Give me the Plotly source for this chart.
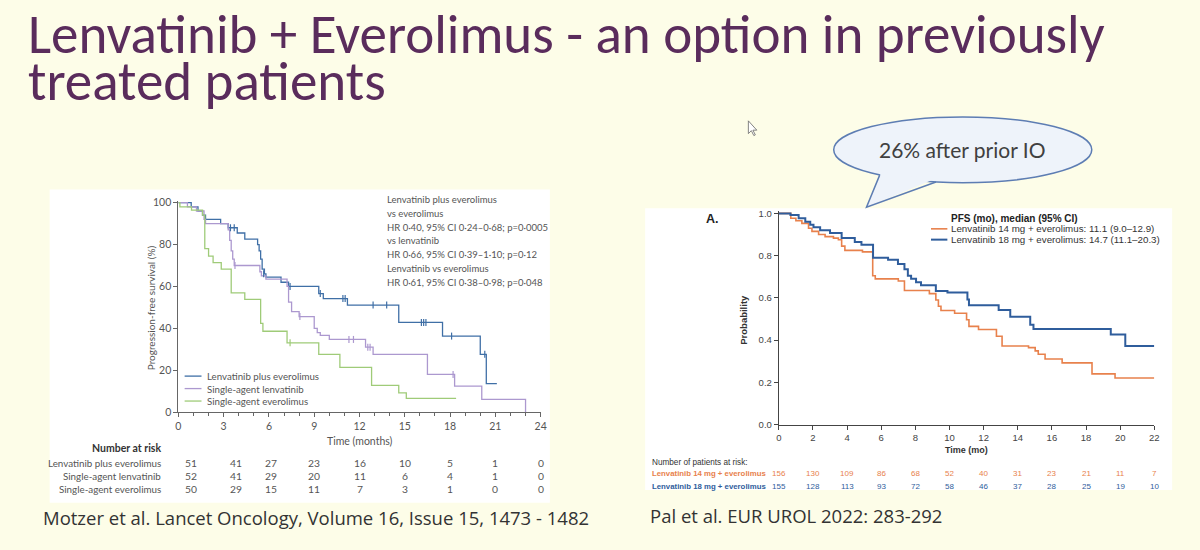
import plotly.graph_objects as go

W, H = 1200, 550
def PX(x): return x / W
def PY(y): return 1 - y / H

# ---------------- Left chart data (Motzer et al.) ----------------
lenv_evero_t = [0, 0.85, 1.3, 1.6, 1.8, 2.8, 3.3, 3.9, 4.4, 5.25, 5.35, 5.45, 5.55, 5.7, 5.8, 6.8, 7.3, 9.3, 9.6, 11.2, 14.6, 17.5, 20.0, 20.4, 21.1]
lenv_evero_s = [100, 98, 96, 94, 92, 90, 88, 85.5, 82.6, 80, 77, 73, 68.3, 66, 64.4, 62, 60, 56.6, 54.2, 51.1, 42.8, 36.3, 27.6, 13.6, 13.6]
lenv_evero_cens_t = [3.45, 3.7, 5.65, 7.4, 9.4, 10.9, 11.05, 12.9, 13.8, 16.1, 16.25, 16.4, 18.1, 20.3]
lenv_evero_cens_s = [88, 88, 66, 60, 56.6, 54.2, 54.2, 51.1, 51.1, 42.8, 42.8, 42.8, 36.3, 27.6]

lenv_t = [0, 0.6, 1.2, 1.7, 1.8, 3.3, 3.4, 3.5, 3.6, 3.7, 5.4, 5.5, 5.8, 7.2, 7.3, 7.5, 8.0, 9.0, 9.2, 9.4, 10.0, 12.4, 12.9, 16.5, 18.3, 20.1, 23.0]
lenv_s = [100, 98, 96, 92, 90, 87, 82, 77, 73, 70, 67, 65, 63.5, 60, 52.5, 48, 45.6, 40, 38, 36.6, 34.7, 31, 27.6, 18, 12.4, 6.1, 0]
lenv_cens_t = [3.75, 8.05, 11.3, 11.6, 12.55, 12.7, 18.2]
lenv_cens_s = [70, 45.6, 34.7, 34.7, 31, 31, 18]

evero_t = [0, 0.1, 0.87, 1.6, 1.75, 2.0, 2.3, 2.84, 3.5, 4.4, 5.45, 5.6, 7.2, 9.3, 10.7, 12.8, 14.6, 15.1, 18.4]
evero_s = [100, 98, 96.4, 94, 78, 74.5, 71.4, 68.3, 56.9, 53.8, 42.4, 38.6, 33.1, 27.6, 21.4, 12.8, 9.2, 6.6, 6.6]
evero_cens_t = [7.4]
evero_cens_s = [33.1]

left_names = ["Lenvatinib plus everolimus", "Single-agent lenvatinib", "Single-agent everolimus"]
left_risk_times = [0, 3, 6, 9, 12, 15, 18, 21, 24]
left_risk = [
    [51, 41, 27, 23, 16, 10, 5, 1, 0],
    [52, 41, 29, 20, 11, 6, 4, 1, 0],
    [50, 29, 15, 11, 7, 3, 1, 0, 0],
]
left_stats = ["Lenvatinib plus everolimus", "vs everolimus", "HR 0·40, 95% CI 0·24–0·68; p=0·0005",
              "vs lenvatinib", "HR 0·66, 95% CI 0·39–1·10; p=0·12", "Lenvatinib vs everolimus",
              "HR 0·61, 95% CI 0·38–0·98; p=0·048"]

# ---------------- Right chart data (Pal et al.) ----------------
l14_t = [0, 0.7, 1.0, 1.35, 1.74, 1.94, 2.33, 2.71, 3.2, 3.49, 3.68, 3.87, 4.9, 5.5, 5.65, 7.0, 7.36, 8.82, 9.2, 9.35, 9.5, 10.3, 11.0, 11.14, 11.7, 12.75, 13.08, 14.63, 15.02, 15.2, 15.6, 16.6, 18.35, 19.7, 22.0]
l14_p = [1.0, 0.977, 0.965, 0.953, 0.93, 0.915, 0.90, 0.89, 0.883, 0.875, 0.845, 0.825, 0.818, 0.705, 0.69, 0.68, 0.635, 0.62, 0.59, 0.56, 0.54, 0.527, 0.496, 0.465, 0.45, 0.418, 0.372, 0.364, 0.349, 0.333, 0.31, 0.292, 0.24, 0.22, 0.22]
l18_t = [0, 0.68, 1.16, 1.55, 1.84, 2.03, 2.42, 3.0, 3.68, 4.45, 4.84, 5.52, 6.4, 6.98, 7.36, 7.56, 7.75, 8.04, 8.33, 9.2, 9.88, 11.05, 11.14, 12.88, 13.56, 14.73, 14.92, 19.45, 20.3, 22.0]
l18_p = [1.0, 0.993, 0.977, 0.96, 0.946, 0.934, 0.92, 0.907, 0.883, 0.865, 0.852, 0.79, 0.78, 0.76, 0.736, 0.705, 0.69, 0.674, 0.66, 0.632, 0.625, 0.592, 0.565, 0.543, 0.511, 0.473, 0.453, 0.427, 0.372, 0.372]

right_names = ["Lenvatinib 14 mg + everolimus", "Lenvatinib 18 mg + everolimus"]
right_legend = ["Lenvatinib 14 mg + everolimus: 11.1 (9.0–12.9)", "Lenvatinib 18 mg + everolimus: 14.7 (11.1–20.3)"]
right_risk_times = [0, 2, 4, 6, 8, 10, 12, 14, 16, 18, 20, 22]
right_risk = [
    [156, 130, 109, 86, 68, 52, 40, 31, 23, 21, 11, 7],
    [155, 128, 113, 93, 72, 58, 46, 37, 28, 25, 19, 10],
]

# ---------------- style ----------------
BG = "#FDFDE8"
TITLE_C = "#5A2C5C"
L_COLORS = ["#3F6FA6", "#AC98CF", "#9FCB78"]
R_COLORS = ["#E8814C", "#2F5D9C"]
LFONT = "Lato, Open Sans, sans-serif"
RFONT = "Liberation Sans, Arial, sans-serif"
GREY = "#555555"

fig = go.Figure()

def km(t, s, color, width, xa, ya):
    fig.add_trace(go.Scatter(x=t, y=s, mode="lines", line=dict(shape="hv", color=color, width=width),
                             xaxis=xa, yaxis=ya, hoverinfo="skip", showlegend=False))

def cens(t, s, color, xa, ya):
    fig.add_trace(go.Scatter(x=t, y=s, mode="markers",
                             marker=dict(symbol="line-ns", size=5, line=dict(color=color, width=1.2)),
                             xaxis=xa, yaxis=ya, hoverinfo="skip", showlegend=False, cliponaxis=False))

km(lenv_evero_t, lenv_evero_s, L_COLORS[0], 1.3, "x", "y")
km(lenv_t, lenv_s, L_COLORS[1], 1.3, "x", "y")
km(evero_t, evero_s, L_COLORS[2], 1.3, "x", "y")
cens(lenv_evero_cens_t, lenv_evero_cens_s, L_COLORS[0], "x", "y")
cens(lenv_cens_t, lenv_cens_s, L_COLORS[1], "x", "y")
cens(evero_cens_t, evero_cens_s, L_COLORS[2], "x", "y")

km(l14_t, l14_p, R_COLORS[0], 1.6, "x2", "y2")
km(l18_t, l18_p, R_COLORS[1], 2.0, "x2", "y2")

# ---------------- axes ----------------
lx0, lx1 = 176.7, 541.7
ly0, ly100 = 415.7, 202.3
lytop = ly100 - (ly0 - ly100) / 100 * 1.0
rx0, rx1 = 781.7, 1160.0
ry0, ry1 = 428.3, 213.3
rytop = ry1 - (ry0 - ry1) * 0.01

common = dict(showgrid=False, zeroline=False, showline=True, ticks="outside", mirror=False)
fig.update_layout(
    xaxis=dict(domain=[PX(lx0), PX(lx1)], range=[0, 24], tickvals=list(range(0, 25, 3)),
               linecolor="#666", linewidth=1, tickcolor="#666", ticklen=4, tickwidth=1,
               minor=dict(dtick=1, ticklen=2.5, tickcolor="#666", ticks="outside", showgrid=False),
               tickfont=dict(family=LFONT, size=10.5, color=GREY), anchor="y", **common),
    yaxis=dict(domain=[PY(ly0), PY(lytop)], range=[0, 101], tickvals=list(range(0, 101, 20)),
               linecolor="#666", linewidth=1, tickcolor="#666", ticklen=4, tickwidth=1,
               tickfont=dict(family=LFONT, size=10.5, color=GREY), anchor="x", **common),
    xaxis2=dict(domain=[PX(rx0), PX(rx1)], range=[0, 22], tickvals=right_risk_times,
                linecolor="#444", linewidth=1.2, tickcolor="#444", ticklen=4, tickwidth=1,
                tickfont=dict(family=RFONT, size=9.5, color="#444"), anchor="y2", **common),
    yaxis2=dict(domain=[PY(ry0), PY(rytop)], range=[0, 1.01], tickvals=[0, 0.2, 0.4, 0.6, 0.8, 1.0],
                tickformat=".1f", linecolor="#444", linewidth=1.2, tickcolor="#444", ticklen=4, tickwidth=1,
                tickfont=dict(family=RFONT, size=9.5, color="#444"), anchor="x2", **common),
)

shapes = []
annots = []

def A(text, x, y, size, color, family, xanchor="left", yanchor="middle", angle=0, xref="paper", yref="paper", xshift=0):
    annots.append(dict(text=text, x=x if xref != "paper" else PX(x), y=PY(y) if yref == "paper" else y,
                       xref=xref, yref=yref, showarrow=False, xanchor=xanchor, yanchor=yanchor,
                       textangle=angle, xshift=xshift,
                       font=dict(size=size, color=color, family=family)))

# white panels
shapes.append(dict(type="rect", xref="paper", yref="paper", x0=PX(47), x1=PX(551), y0=PY(508), y1=PY(189),
                   fillcolor="white", line=dict(width=0), layer="below"))
shapes.append(dict(type="rect", xref="paper", yref="paper", x0=PX(647), x1=PX(1178), y0=PY(495), y1=PY(208),
                   fillcolor="white", line=dict(width=0), layer="below"))

# title
A("Lenvatinib + Everolimus - an option in previously", 23, 31, 55, TITLE_C, "Carlito, Lato, sans-serif")
A("treated patients", 23, 79, 55, TITLE_C, "Carlito, Lato, sans-serif")

# left chart texts
A("Progression-free survival (%)", 149, (ly0 + ly100) / 2, 10, GREY, LFONT, xanchor="center", angle=-90)
A("Time (months)", (lx0 + lx1) / 2, 445, 10.5, GREY, LFONT, xanchor="center")
for i, line in enumerate(left_stats):
    A(line, 385, 199 + 14.1 * i, 9.5, GREY, LFONT)
for i, name in enumerate(left_names):
    yy = 379 + 12.7 * i
    shapes.append(dict(type="line", xref="paper", yref="paper", x0=PX(183), x1=PX(200), y0=PY(yy), y1=PY(yy),
                       line=dict(color=L_COLORS[i], width=1.3)))
    A(name, 204, yy, 9.7, GREY, LFONT)

A("<b>Number at risk</b>", 161, 452, 10.5, "#333", LFONT, xanchor="right")
left_shift = [13, 12, 2, 0, 0, 0, 0, 0, 0]
for r, name in enumerate(left_names):
    yy = 467 + 13.5 * r
    A(name, 161, yy, 9.8, GREY, LFONT, xanchor="right")
    for j, t in enumerate(left_risk_times):
        A(str(left_risk[r][j]), t, yy, 10.3, GREY, LFONT, xanchor="center", xref="x", xshift=left_shift[j])

A("Motzer et al. Lancet Oncology, Volume 16, Issue 15, 1473 - 1482", 38, 523, 18.5, "#333", "Open Sans, sans-serif")

# right chart texts
A("<b>A.</b>", 706, 219, 12.5, "#222", RFONT)
A("<b>Probability</b>", 746.5, 321.7, 9.5, "#333", RFONT, xanchor="center", angle=-90)
A("<b>Time (mo)</b>", (rx0 + rx1) / 2, 454, 9, "#333", RFONT, xanchor="center")
A("<b>PFS (mo), median (95% CI)</b>", 953, 218, 10, "#222", RFONT)
for i, txt in enumerate(right_legend):
    yy = 229 + 11 * i
    shapes.append(dict(type="line", xref="paper", yref="paper", x0=PX(935), x1=PX(951.5), y0=PY(yy), y1=PY(yy),
                       line=dict(color=R_COLORS[i], width=1.6 if i == 0 else 2)))
    A(txt, 953.5, yy, 9.75, "#333", RFONT)

A("Number of patients at risk:", 652, 466.5, 8.2, "#333", RFONT)
for r, name in enumerate(right_names):
    yy = 478.6 + 13.2 * r
    A("<b>" + name + "</b>", 652, yy, 7.8, R_COLORS[r], RFONT)
    for j, t in enumerate(right_risk_times):
        A(str(right_risk[r][j]), t, yy, 8, R_COLORS[r], RFONT, xanchor="center", xref="x2")

A("Pal et al. EUR UROL 2022: 283-292", 650, 521, 18.5, "#333", "Open Sans, sans-serif")

# callout bubble
shapes.append(dict(type="circle", xref="paper", yref="paper", x0=PX(837), x1=PX(1097), y0=PY(182), y1=PY(115),
                   fillcolor="#EEF3FA", line=dict(color="#5D7DB3", width=1.5)))
def pth(pts):
    return "M " + " L ".join(f"{PX(a):.5f},{PY(b):.5f}" for a, b in pts)
shapes.append(dict(type="path", xref="paper", yref="paper", path=pth([(885, 171), (870, 207), (938, 178.5)]) + " Z",
                   fillcolor="#EEF3FA", line=dict(width=0)))
shapes.append(dict(type="path", xref="paper", yref="paper", path=pth([(883.3, 174.3), (870, 207), (940, 181.3)]),
                   line=dict(color="#5D7DB3", width=1.5)))
A("26% after prior IO", 966, 148, 21, "#404040", "Lato, sans-serif", xanchor="center")

# mouse cursor
shapes.append(dict(type="path", xref="paper", yref="paper",
                   path=pth([(751, 119), (751, 132), (754, 129), (756.5, 134), (758, 133.3), (755.6, 128.5), (759.5, 128.5)]) + " Z",
                   fillcolor="white", line=dict(color="#666", width=0.8)))

fig.update_layout(width=W, height=H, margin=dict(l=0, r=0, t=0, b=0),
                  paper_bgcolor=BG, plot_bgcolor="rgba(0,0,0,0)",
                  shapes=shapes, annotations=annots, showlegend=False)

fig.write_html("out.html")
